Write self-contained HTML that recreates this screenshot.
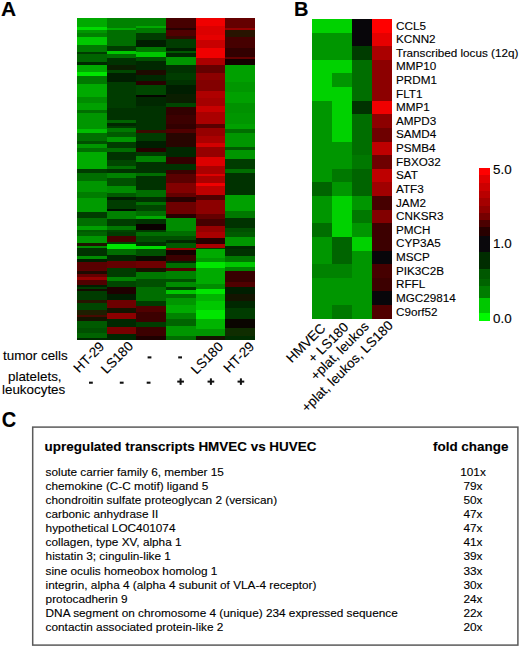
<!DOCTYPE html>
<html><head><meta charset="utf-8"><style>
html,body{margin:0;padding:0;background:#fff;}
body{width:520px;height:647px;position:relative;overflow:hidden;font-family:"Liberation Sans",sans-serif;color:#000;-webkit-text-stroke:0.12px #000;}
.lab{position:absolute;font-weight:bold;font-size:20px;line-height:20px;color:#000;}
.g{position:absolute;left:396px;font-size:11.7px;line-height:13px;white-space:nowrap;}
.t{position:absolute;font-size:13.4px;line-height:14px;white-space:nowrap;}
.rot{position:absolute;font-size:13.2px;line-height:14px;white-space:nowrap;transform-origin:100% 100%;transform:rotate(-45deg);}
.rotb{position:absolute;font-size:11.5px;line-height:13px;white-space:nowrap;transform-origin:100% 100%;transform:rotate(-45deg);}
.box{position:absolute;left:32px;top:426.5px;width:484.5px;height:217px;border:1.5px solid #606060;}
.hd{position:absolute;font-weight:bold;font-size:13.45px;line-height:15px;white-space:nowrap;}
.r{position:absolute;left:45.6px;font-size:11.8px;line-height:13px;white-space:nowrap;}
.v{position:absolute;left:440px;width:66px;text-align:center;font-size:11.8px;line-height:13px;}
svg{position:absolute;left:0;top:0;}
</style></head><body>
<svg width="520" height="647" viewBox="0 0 520 647" shape-rendering="crispEdges">
<rect x="77.00" y="18.00" width="29.97" height="9.50" fill="#00aa00"/><rect x="77.00" y="27.20" width="29.97" height="2.90" fill="#00dc00"/><rect x="77.00" y="29.80" width="29.97" height="3.80" fill="#009600"/><rect x="77.00" y="33.30" width="29.97" height="3.80" fill="#008200"/><rect x="77.00" y="36.80" width="29.97" height="8.90" fill="#00c800"/><rect x="77.00" y="45.40" width="29.97" height="6.40" fill="#007800"/><rect x="77.00" y="51.50" width="29.97" height="2.80" fill="#003c00"/><rect x="77.00" y="54.00" width="29.97" height="8.20" fill="#006400"/><rect x="77.00" y="61.90" width="29.97" height="2.90" fill="#002800"/><rect x="77.00" y="64.50" width="29.97" height="8.00" fill="#00aa00"/><rect x="77.00" y="72.20" width="29.97" height="3.80" fill="#00e600"/><rect x="77.00" y="75.70" width="29.97" height="9.00" fill="#007800"/><rect x="77.00" y="84.40" width="29.97" height="13.20" fill="#00aa00"/><rect x="77.00" y="97.30" width="29.97" height="5.50" fill="#008c00"/><rect x="77.00" y="102.50" width="29.97" height="7.30" fill="#00a000"/><rect x="77.00" y="109.50" width="29.97" height="3.80" fill="#006e00"/><rect x="77.00" y="113.00" width="29.97" height="13.30" fill="#009600"/><rect x="77.00" y="126.00" width="29.97" height="3.50" fill="#009600"/><rect x="77.00" y="129.20" width="29.97" height="3.80" fill="#00be00"/><rect x="77.00" y="132.70" width="29.97" height="8.90" fill="#006e00"/><rect x="77.00" y="141.30" width="29.97" height="2.90" fill="#005000"/><rect x="77.00" y="143.90" width="29.97" height="4.60" fill="#009600"/><rect x="77.00" y="148.20" width="29.97" height="3.80" fill="#006e00"/><rect x="77.00" y="151.70" width="29.97" height="17.60" fill="#00ac00"/><rect x="77.00" y="169.00" width="29.97" height="4.60" fill="#003c00"/><rect x="77.00" y="173.30" width="29.97" height="8.10" fill="#006e00"/><rect x="77.00" y="181.10" width="29.97" height="10.70" fill="#009600"/><rect x="77.00" y="191.50" width="29.97" height="7.20" fill="#007d00"/><rect x="77.00" y="198.40" width="29.97" height="14.20" fill="#009b00"/><rect x="77.00" y="212.30" width="29.97" height="6.30" fill="#003c00"/><rect x="77.00" y="218.30" width="29.97" height="8.10" fill="#006e00"/><rect x="77.00" y="226.10" width="29.97" height="4.60" fill="#00a000"/><rect x="77.00" y="230.40" width="29.97" height="1.90" fill="#005a00"/><rect x="77.00" y="232.00" width="29.97" height="3.80" fill="#006400"/><rect x="77.00" y="235.50" width="29.97" height="8.00" fill="#009600"/><rect x="77.00" y="243.20" width="29.97" height="2.90" fill="#1e1400"/><rect x="77.00" y="245.80" width="29.97" height="2.90" fill="#008c00"/><rect x="77.00" y="248.40" width="29.97" height="8.10" fill="#003200"/><rect x="77.00" y="256.20" width="29.97" height="2.90" fill="#008c00"/><rect x="77.00" y="258.80" width="29.97" height="3.80" fill="#001e00"/><rect x="77.00" y="262.30" width="29.97" height="9.00" fill="#5a0000"/><rect x="77.00" y="271.00" width="29.97" height="2.80" fill="#1e0a00"/><rect x="77.00" y="273.50" width="29.97" height="3.80" fill="#640000"/><rect x="77.00" y="277.00" width="29.97" height="2.90" fill="#960000"/><rect x="77.00" y="279.60" width="29.97" height="5.50" fill="#500000"/><rect x="77.00" y="284.80" width="29.97" height="2.90" fill="#001e00"/><rect x="77.00" y="287.40" width="29.97" height="1.50" fill="#003c00"/><rect x="77.00" y="288.60" width="29.97" height="2.90" fill="#140a00"/><rect x="77.00" y="291.20" width="29.97" height="8.90" fill="#003c00"/><rect x="77.00" y="299.80" width="29.97" height="3.80" fill="#281400"/><rect x="77.00" y="303.30" width="29.97" height="7.20" fill="#004600"/><rect x="77.00" y="310.20" width="29.97" height="4.70" fill="#1e1e00"/><rect x="77.00" y="314.60" width="29.97" height="2.90" fill="#460a00"/><rect x="77.00" y="317.20" width="29.97" height="3.70" fill="#141400"/><rect x="77.00" y="320.60" width="29.97" height="7.20" fill="#005a00"/><rect x="77.00" y="327.50" width="29.97" height="5.50" fill="#005000"/><rect x="77.00" y="332.70" width="29.97" height="5.60" fill="#006400"/><rect x="77.00" y="338.00" width="29.97" height="1.60" fill="#002800"/><rect x="106.67" y="18.00" width="29.97" height="10.30" fill="#008200"/><rect x="106.67" y="28.00" width="29.97" height="2.10" fill="#00aa00"/><rect x="106.67" y="29.80" width="29.97" height="16.80" fill="#006e00"/><rect x="106.67" y="46.30" width="29.97" height="4.60" fill="#003c00"/><rect x="106.67" y="50.60" width="29.97" height="3.70" fill="#00c800"/><rect x="106.67" y="54.00" width="29.97" height="3.80" fill="#006e00"/><rect x="106.67" y="57.50" width="29.97" height="7.30" fill="#003200"/><rect x="106.67" y="64.50" width="29.97" height="5.40" fill="#0a1e00"/><rect x="106.67" y="69.60" width="29.97" height="3.80" fill="#004600"/><rect x="106.67" y="73.10" width="29.97" height="9.00" fill="#001e00"/><rect x="106.67" y="81.80" width="29.97" height="26.20" fill="#003c00"/><rect x="106.67" y="107.70" width="29.97" height="12.40" fill="#003200"/><rect x="106.67" y="119.80" width="29.97" height="3.80" fill="#006400"/><rect x="106.67" y="123.30" width="29.97" height="3.00" fill="#002800"/><rect x="106.67" y="126.00" width="29.97" height="1.80" fill="#003c00"/><rect x="106.67" y="127.50" width="29.97" height="4.60" fill="#007800"/><rect x="106.67" y="131.80" width="29.97" height="5.50" fill="#005a00"/><rect x="106.67" y="137.00" width="29.97" height="5.50" fill="#009600"/><rect x="106.67" y="142.20" width="29.97" height="6.30" fill="#003c00"/><rect x="106.67" y="148.20" width="29.97" height="3.80" fill="#006e00"/><rect x="106.67" y="151.70" width="29.97" height="8.90" fill="#003200"/><rect x="106.67" y="160.30" width="29.97" height="5.50" fill="#004600"/><rect x="106.67" y="165.50" width="29.97" height="3.80" fill="#006e00"/><rect x="106.67" y="169.00" width="29.97" height="4.60" fill="#003200"/><rect x="106.67" y="173.30" width="29.97" height="4.70" fill="#008200"/><rect x="106.67" y="177.70" width="29.97" height="8.90" fill="#005000"/><rect x="106.67" y="186.30" width="29.97" height="7.20" fill="#008c00"/><rect x="106.67" y="193.20" width="29.97" height="3.80" fill="#005a00"/><rect x="106.67" y="196.70" width="29.97" height="3.80" fill="#001e00"/><rect x="106.67" y="200.20" width="29.97" height="8.90" fill="#003c00"/><rect x="106.67" y="208.80" width="29.97" height="2.90" fill="#000f00"/><rect x="106.67" y="211.40" width="29.97" height="8.10" fill="#008200"/><rect x="106.67" y="219.20" width="29.97" height="7.20" fill="#003c00"/><rect x="106.67" y="226.10" width="29.97" height="4.60" fill="#007800"/><rect x="106.67" y="230.40" width="29.97" height="1.90" fill="#004600"/><rect x="106.67" y="232.00" width="29.97" height="3.80" fill="#003c00"/><rect x="106.67" y="235.50" width="29.97" height="6.30" fill="#460000"/><rect x="106.67" y="241.50" width="29.97" height="2.90" fill="#003c00"/><rect x="106.67" y="244.10" width="29.97" height="5.50" fill="#00e600"/><rect x="106.67" y="249.30" width="29.97" height="6.40" fill="#006e00"/><rect x="106.67" y="255.40" width="29.97" height="5.50" fill="#002800"/><rect x="106.67" y="260.60" width="29.97" height="8.00" fill="#640000"/><rect x="106.67" y="268.30" width="29.97" height="9.00" fill="#003c00"/><rect x="106.67" y="277.00" width="29.97" height="4.60" fill="#008200"/><rect x="106.67" y="281.30" width="29.97" height="6.40" fill="#004600"/><rect x="106.67" y="287.40" width="29.97" height="7.20" fill="#1e0000"/><rect x="106.67" y="294.30" width="29.97" height="5.50" fill="#001e00"/><rect x="106.67" y="299.50" width="29.97" height="8.90" fill="#6e0000"/><rect x="106.67" y="308.10" width="29.97" height="4.70" fill="#141400"/><rect x="106.67" y="312.50" width="29.97" height="7.20" fill="#8c0000"/><rect x="106.67" y="319.40" width="29.97" height="8.10" fill="#002800"/><rect x="106.67" y="327.20" width="29.97" height="7.20" fill="#780000"/><rect x="106.67" y="334.10" width="29.97" height="5.50" fill="#002800"/><rect x="136.33" y="18.00" width="29.97" height="7.80" fill="#008200"/><rect x="136.33" y="25.50" width="29.97" height="2.90" fill="#00aa00"/><rect x="136.33" y="28.10" width="29.97" height="5.50" fill="#007800"/><rect x="136.33" y="33.30" width="29.97" height="7.20" fill="#003c00"/><rect x="136.33" y="40.20" width="29.97" height="7.30" fill="#001e00"/><rect x="136.33" y="47.20" width="29.97" height="4.60" fill="#007800"/><rect x="136.33" y="51.50" width="29.97" height="5.50" fill="#00c800"/><rect x="136.33" y="56.70" width="29.97" height="4.60" fill="#005000"/><rect x="136.33" y="61.00" width="29.97" height="8.90" fill="#002800"/><rect x="136.33" y="69.60" width="29.97" height="5.50" fill="#1e0a00"/><rect x="136.33" y="74.80" width="29.97" height="6.40" fill="#002800"/><rect x="136.33" y="80.90" width="29.97" height="4.60" fill="#280000"/><rect x="136.33" y="85.20" width="29.97" height="9.80" fill="#004600"/><rect x="136.33" y="94.70" width="29.97" height="2.90" fill="#050500"/><rect x="136.33" y="97.30" width="29.97" height="9.00" fill="#002800"/><rect x="136.33" y="106.00" width="29.97" height="24.30" fill="#003200"/><rect x="136.33" y="130.00" width="29.97" height="3.00" fill="#3c0a00"/><rect x="136.33" y="132.70" width="29.97" height="8.90" fill="#003c00"/><rect x="136.33" y="141.30" width="29.97" height="7.20" fill="#001e00"/><rect x="136.33" y="148.20" width="29.97" height="3.80" fill="#280000"/><rect x="136.33" y="151.70" width="29.97" height="4.60" fill="#003c00"/><rect x="136.33" y="156.00" width="29.97" height="6.30" fill="#008200"/><rect x="136.33" y="162.00" width="29.97" height="10.80" fill="#003200"/><rect x="136.33" y="172.50" width="29.97" height="3.80" fill="#006e00"/><rect x="136.33" y="176.00" width="29.97" height="14.10" fill="#003200"/><rect x="136.33" y="189.80" width="29.97" height="7.20" fill="#006e00"/><rect x="136.33" y="196.70" width="29.97" height="5.50" fill="#003200"/><rect x="136.33" y="201.90" width="29.97" height="3.70" fill="#006e00"/><rect x="136.33" y="205.30" width="29.97" height="5.50" fill="#004600"/><rect x="136.33" y="210.50" width="29.97" height="5.50" fill="#006e00"/><rect x="136.33" y="215.70" width="29.97" height="3.80" fill="#00aa00"/><rect x="136.33" y="219.20" width="29.97" height="4.60" fill="#003200"/><rect x="136.33" y="223.50" width="29.97" height="7.20" fill="#0a0000"/><rect x="136.33" y="230.40" width="29.97" height="1.90" fill="#003c00"/><rect x="136.33" y="232.00" width="29.97" height="3.80" fill="#006e00"/><rect x="136.33" y="235.50" width="29.97" height="7.20" fill="#005000"/><rect x="136.33" y="242.40" width="29.97" height="3.70" fill="#003200"/><rect x="136.33" y="245.80" width="29.97" height="3.80" fill="#00dc00"/><rect x="136.33" y="249.30" width="29.97" height="7.20" fill="#005000"/><rect x="136.33" y="256.20" width="29.97" height="5.50" fill="#0a0a00"/><rect x="136.33" y="261.40" width="29.97" height="6.40" fill="#6e0000"/><rect x="136.33" y="267.50" width="29.97" height="4.60" fill="#141400"/><rect x="136.33" y="271.80" width="29.97" height="7.20" fill="#007800"/><rect x="136.33" y="278.70" width="29.97" height="9.00" fill="#005000"/><rect x="136.33" y="287.40" width="29.97" height="14.10" fill="#006e00"/><rect x="136.33" y="301.20" width="29.97" height="5.50" fill="#003c00"/><rect x="136.33" y="306.40" width="29.97" height="5.50" fill="#500000"/><rect x="136.33" y="311.60" width="29.97" height="10.70" fill="#3c0000"/><rect x="136.33" y="322.00" width="29.97" height="5.50" fill="#003c00"/><rect x="136.33" y="327.20" width="29.97" height="8.90" fill="#3c0000"/><rect x="136.33" y="335.80" width="29.97" height="3.80" fill="#1e0000"/><rect x="166.00" y="18.00" width="29.97" height="10.40" fill="#460000"/><rect x="166.00" y="28.10" width="29.97" height="2.00" fill="#280000"/><rect x="166.00" y="29.80" width="29.97" height="6.40" fill="#500000"/><rect x="166.00" y="35.90" width="29.97" height="2.90" fill="#320a00"/><rect x="166.00" y="38.50" width="29.97" height="9.80" fill="#003c00"/><rect x="166.00" y="48.00" width="29.97" height="2.90" fill="#001e00"/><rect x="166.00" y="50.60" width="29.97" height="2.90" fill="#005a00"/><rect x="166.00" y="53.20" width="29.97" height="3.80" fill="#002800"/><rect x="166.00" y="56.70" width="29.97" height="8.90" fill="#009600"/><rect x="166.00" y="65.30" width="29.97" height="8.10" fill="#003200"/><rect x="166.00" y="73.10" width="29.97" height="7.20" fill="#003c00"/><rect x="166.00" y="80.00" width="29.97" height="5.50" fill="#003200"/><rect x="166.00" y="85.20" width="29.97" height="9.00" fill="#001e00"/><rect x="166.00" y="93.90" width="29.97" height="8.90" fill="#0a1e00"/><rect x="166.00" y="102.50" width="29.97" height="4.70" fill="#004600"/><rect x="166.00" y="106.90" width="29.97" height="8.00" fill="#320000"/><rect x="166.00" y="114.60" width="29.97" height="9.70" fill="#3c0000"/><rect x="166.00" y="124.00" width="29.97" height="5.50" fill="#320000"/><rect x="166.00" y="129.20" width="29.97" height="3.80" fill="#500000"/><rect x="166.00" y="132.70" width="29.97" height="14.10" fill="#280500"/><rect x="166.00" y="146.50" width="29.97" height="10.70" fill="#002800"/><rect x="166.00" y="156.90" width="29.97" height="7.20" fill="#320000"/><rect x="166.00" y="163.80" width="29.97" height="6.40" fill="#003200"/><rect x="166.00" y="169.90" width="29.97" height="4.60" fill="#3c0000"/><rect x="166.00" y="174.20" width="29.97" height="8.90" fill="#5a0000"/><rect x="166.00" y="182.80" width="29.97" height="10.70" fill="#820000"/><rect x="166.00" y="193.20" width="29.97" height="3.80" fill="#640000"/><rect x="166.00" y="196.70" width="29.97" height="5.50" fill="#280000"/><rect x="166.00" y="201.90" width="29.97" height="12.40" fill="#6e0000"/><rect x="166.00" y="214.00" width="29.97" height="4.60" fill="#280000"/><rect x="166.00" y="218.30" width="29.97" height="13.30" fill="#008c00"/><rect x="166.00" y="231.30" width="29.97" height="4.50" fill="#006e00"/><rect x="166.00" y="235.50" width="29.97" height="4.60" fill="#005000"/><rect x="166.00" y="239.80" width="29.97" height="3.70" fill="#002800"/><rect x="166.00" y="243.20" width="29.97" height="4.70" fill="#005a00"/><rect x="166.00" y="247.60" width="29.97" height="2.90" fill="#960000"/><rect x="166.00" y="250.20" width="29.97" height="5.50" fill="#140000"/><rect x="166.00" y="255.40" width="29.97" height="5.50" fill="#3c0000"/><rect x="166.00" y="260.60" width="29.97" height="2.90" fill="#002800"/><rect x="166.00" y="263.20" width="29.97" height="4.60" fill="#006e00"/><rect x="166.00" y="267.50" width="29.97" height="3.80" fill="#500000"/><rect x="166.00" y="271.00" width="29.97" height="8.00" fill="#008200"/><rect x="166.00" y="278.70" width="29.97" height="3.80" fill="#005000"/><rect x="166.00" y="282.20" width="29.97" height="4.60" fill="#008c00"/><rect x="166.00" y="286.50" width="29.97" height="3.80" fill="#003c00"/><rect x="166.00" y="290.00" width="29.97" height="4.60" fill="#00c800"/><rect x="166.00" y="294.30" width="29.97" height="3.80" fill="#006e00"/><rect x="166.00" y="297.80" width="29.97" height="7.20" fill="#009600"/><rect x="166.00" y="304.70" width="29.97" height="8.90" fill="#00aa00"/><rect x="166.00" y="313.30" width="29.97" height="5.50" fill="#008200"/><rect x="166.00" y="318.50" width="29.97" height="7.30" fill="#006400"/><rect x="166.00" y="325.50" width="29.97" height="10.60" fill="#009600"/><rect x="166.00" y="335.80" width="29.97" height="3.80" fill="#006e00"/><rect x="195.67" y="18.00" width="29.97" height="8.70" fill="#f00000"/><rect x="195.67" y="26.40" width="29.97" height="8.90" fill="#dc0000"/><rect x="195.67" y="35.00" width="29.97" height="5.50" fill="#e60000"/><rect x="195.67" y="40.20" width="29.97" height="8.10" fill="#c80000"/><rect x="195.67" y="48.00" width="29.97" height="9.80" fill="#f00000"/><rect x="195.67" y="57.50" width="29.97" height="7.30" fill="#aa0000"/><rect x="195.67" y="64.50" width="29.97" height="8.90" fill="#640000"/><rect x="195.67" y="73.10" width="29.97" height="7.60" fill="#8c0000"/><rect x="195.67" y="80.40" width="29.97" height="10.70" fill="#820000"/><rect x="195.67" y="90.80" width="29.97" height="7.20" fill="#af0000"/><rect x="195.67" y="97.70" width="29.97" height="8.90" fill="#a50000"/><rect x="195.67" y="106.30" width="29.97" height="5.50" fill="#c80000"/><rect x="195.67" y="111.50" width="29.97" height="12.80" fill="#aa0000"/><rect x="195.67" y="124.00" width="29.97" height="3.80" fill="#5a0000"/><rect x="195.67" y="127.50" width="29.97" height="8.90" fill="#960000"/><rect x="195.67" y="136.10" width="29.97" height="7.20" fill="#aa0000"/><rect x="195.67" y="143.00" width="29.97" height="4.70" fill="#d20000"/><rect x="195.67" y="147.40" width="29.97" height="9.80" fill="#960000"/><rect x="195.67" y="156.90" width="29.97" height="8.90" fill="#dc0000"/><rect x="195.67" y="165.50" width="29.97" height="9.00" fill="#aa0000"/><rect x="195.67" y="174.20" width="29.97" height="2.00" fill="#dc0000"/><rect x="195.67" y="175.90" width="29.97" height="7.20" fill="#aa0000"/><rect x="195.67" y="182.80" width="29.97" height="3.80" fill="#f00000"/><rect x="195.67" y="186.30" width="29.97" height="9.00" fill="#be0000"/><rect x="195.67" y="195.00" width="29.97" height="5.50" fill="#500000"/><rect x="195.67" y="200.20" width="29.97" height="14.10" fill="#8c0000"/><rect x="195.67" y="214.00" width="29.97" height="5.50" fill="#640000"/><rect x="195.67" y="219.20" width="29.97" height="7.20" fill="#460000"/><rect x="195.67" y="226.10" width="29.97" height="6.20" fill="#960000"/><rect x="195.67" y="232.00" width="29.97" height="6.30" fill="#aa0000"/><rect x="195.67" y="238.00" width="29.97" height="6.40" fill="#280000"/><rect x="195.67" y="244.10" width="29.97" height="3.80" fill="#aa0000"/><rect x="195.67" y="247.60" width="29.97" height="2.00" fill="#003c00"/><rect x="195.67" y="249.30" width="29.97" height="9.00" fill="#00aa00"/><rect x="195.67" y="258.00" width="29.97" height="4.60" fill="#009600"/><rect x="195.67" y="262.30" width="29.97" height="6.30" fill="#00e600"/><rect x="195.67" y="268.30" width="29.97" height="16.00" fill="#00aa00"/><rect x="195.67" y="284.00" width="29.97" height="5.40" fill="#008c00"/><rect x="195.67" y="289.10" width="29.97" height="5.50" fill="#00e600"/><rect x="195.67" y="294.30" width="29.97" height="7.20" fill="#00b400"/><rect x="195.67" y="301.20" width="29.97" height="9.00" fill="#00c800"/><rect x="195.67" y="309.90" width="29.97" height="8.90" fill="#00e600"/><rect x="195.67" y="318.50" width="29.97" height="10.70" fill="#00b400"/><rect x="195.67" y="328.90" width="29.97" height="7.20" fill="#009600"/><rect x="195.67" y="335.80" width="29.97" height="3.80" fill="#141400"/><rect x="225.33" y="18.00" width="29.97" height="10.40" fill="#640000"/><rect x="225.33" y="28.10" width="29.97" height="2.00" fill="#960000"/><rect x="225.33" y="29.80" width="29.97" height="7.30" fill="#281400"/><rect x="225.33" y="36.80" width="29.97" height="11.50" fill="#460000"/><rect x="225.33" y="48.00" width="29.97" height="9.00" fill="#320000"/><rect x="225.33" y="56.70" width="29.97" height="2.90" fill="#640000"/><rect x="225.33" y="59.30" width="29.97" height="5.50" fill="#140000"/><rect x="225.33" y="64.50" width="29.97" height="17.60" fill="#00a000"/><rect x="225.33" y="81.80" width="29.97" height="10.50" fill="#009600"/><rect x="225.33" y="92.00" width="29.97" height="10.80" fill="#00a000"/><rect x="225.33" y="102.50" width="29.97" height="10.80" fill="#009100"/><rect x="225.33" y="113.00" width="29.97" height="11.30" fill="#009600"/><rect x="225.33" y="124.00" width="29.97" height="5.50" fill="#00a000"/><rect x="225.33" y="129.20" width="29.97" height="3.80" fill="#006e00"/><rect x="225.33" y="132.70" width="29.97" height="14.10" fill="#009600"/><rect x="225.33" y="146.50" width="29.97" height="3.80" fill="#005a00"/><rect x="225.33" y="150.00" width="29.97" height="8.90" fill="#009600"/><rect x="225.33" y="158.60" width="29.97" height="10.70" fill="#003c00"/><rect x="225.33" y="169.00" width="29.97" height="3.80" fill="#006e00"/><rect x="225.33" y="172.50" width="29.97" height="22.80" fill="#003200"/><rect x="225.33" y="195.00" width="29.97" height="15.80" fill="#00a000"/><rect x="225.33" y="210.50" width="29.97" height="7.30" fill="#007800"/><rect x="225.33" y="217.50" width="29.97" height="10.60" fill="#003200"/><rect x="225.33" y="227.80" width="29.97" height="4.50" fill="#005000"/><rect x="225.33" y="232.00" width="29.97" height="5.50" fill="#005a00"/><rect x="225.33" y="237.20" width="29.97" height="8.90" fill="#009600"/><rect x="225.33" y="245.80" width="29.97" height="3.80" fill="#002800"/><rect x="225.33" y="249.30" width="29.97" height="7.20" fill="#003200"/><rect x="225.33" y="256.20" width="29.97" height="6.40" fill="#007800"/><rect x="225.33" y="262.30" width="29.97" height="4.60" fill="#00c800"/><rect x="225.33" y="266.60" width="29.97" height="4.60" fill="#008200"/><rect x="225.33" y="270.90" width="29.97" height="11.60" fill="#370000"/><rect x="225.33" y="282.20" width="29.97" height="5.50" fill="#500000"/><rect x="225.33" y="287.40" width="29.97" height="7.20" fill="#001e00"/><rect x="225.33" y="294.30" width="29.97" height="7.20" fill="#141400"/><rect x="225.33" y="301.20" width="29.97" height="7.20" fill="#002800"/><rect x="225.33" y="308.10" width="29.97" height="11.10" fill="#003c00"/><rect x="225.33" y="318.90" width="29.97" height="8.90" fill="#0a0500"/><rect x="225.33" y="327.50" width="29.97" height="9.00" fill="#0f2d00"/><rect x="225.33" y="336.20" width="29.97" height="3.40" fill="#002d00"/>
<rect x="312.00" y="19.00" width="20.30" height="13.92" fill="#00d200"/><rect x="332.00" y="19.00" width="20.30" height="13.92" fill="#00d200"/><rect x="352.00" y="19.00" width="20.30" height="13.92" fill="#08060a"/><rect x="372.00" y="19.00" width="20.30" height="13.92" fill="#ff0000"/><rect x="312.00" y="32.62" width="20.30" height="13.92" fill="#009600"/><rect x="332.00" y="32.62" width="20.30" height="13.92" fill="#009600"/><rect x="352.00" y="32.62" width="20.30" height="13.92" fill="#08060a"/><rect x="372.00" y="32.62" width="20.30" height="13.92" fill="#e60000"/><rect x="312.00" y="46.24" width="20.30" height="13.92" fill="#009600"/><rect x="332.00" y="46.24" width="20.30" height="13.92" fill="#009600"/><rect x="352.00" y="46.24" width="20.30" height="13.92" fill="#003c00"/><rect x="372.00" y="46.24" width="20.30" height="13.92" fill="#aa0000"/><rect x="312.00" y="59.85" width="20.30" height="13.92" fill="#00d200"/><rect x="332.00" y="59.85" width="20.30" height="13.92" fill="#00d200"/><rect x="352.00" y="59.85" width="20.30" height="13.92" fill="#006e00"/><rect x="372.00" y="59.85" width="20.30" height="13.92" fill="#8c0000"/><rect x="312.00" y="73.47" width="20.30" height="13.92" fill="#00d200"/><rect x="332.00" y="73.47" width="20.30" height="13.92" fill="#009600"/><rect x="352.00" y="73.47" width="20.30" height="13.92" fill="#006e00"/><rect x="372.00" y="73.47" width="20.30" height="13.92" fill="#8c0000"/><rect x="312.00" y="87.09" width="20.30" height="13.92" fill="#00d200"/><rect x="332.00" y="87.09" width="20.30" height="13.92" fill="#00d200"/><rect x="352.00" y="87.09" width="20.30" height="13.92" fill="#006e00"/><rect x="372.00" y="87.09" width="20.30" height="13.92" fill="#8c0000"/><rect x="312.00" y="100.71" width="20.30" height="13.92" fill="#009600"/><rect x="332.00" y="100.71" width="20.30" height="13.92" fill="#00d200"/><rect x="352.00" y="100.71" width="20.30" height="13.92" fill="#003200"/><rect x="372.00" y="100.71" width="20.30" height="13.92" fill="#f00000"/><rect x="312.00" y="114.33" width="20.30" height="13.92" fill="#009600"/><rect x="332.00" y="114.33" width="20.30" height="13.92" fill="#00d200"/><rect x="352.00" y="114.33" width="20.30" height="13.92" fill="#006e00"/><rect x="372.00" y="114.33" width="20.30" height="13.92" fill="#8c0000"/><rect x="312.00" y="127.95" width="20.30" height="13.92" fill="#009600"/><rect x="332.00" y="127.95" width="20.30" height="13.92" fill="#00d200"/><rect x="352.00" y="127.95" width="20.30" height="13.92" fill="#006e00"/><rect x="372.00" y="127.95" width="20.30" height="13.92" fill="#6e0000"/><rect x="312.00" y="141.56" width="20.30" height="13.92" fill="#009600"/><rect x="332.00" y="141.56" width="20.30" height="13.92" fill="#009600"/><rect x="352.00" y="141.56" width="20.30" height="13.92" fill="#006e00"/><rect x="372.00" y="141.56" width="20.30" height="13.92" fill="#be0000"/><rect x="312.00" y="155.18" width="20.30" height="13.92" fill="#009600"/><rect x="332.00" y="155.18" width="20.30" height="13.92" fill="#009600"/><rect x="352.00" y="155.18" width="20.30" height="13.92" fill="#007800"/><rect x="372.00" y="155.18" width="20.30" height="13.92" fill="#6e0000"/><rect x="312.00" y="168.80" width="20.30" height="13.92" fill="#009600"/><rect x="332.00" y="168.80" width="20.30" height="13.92" fill="#007800"/><rect x="352.00" y="168.80" width="20.30" height="13.92" fill="#006400"/><rect x="372.00" y="168.80" width="20.30" height="13.92" fill="#be0000"/><rect x="312.00" y="182.42" width="20.30" height="13.92" fill="#006400"/><rect x="332.00" y="182.42" width="20.30" height="13.92" fill="#009600"/><rect x="352.00" y="182.42" width="20.30" height="13.92" fill="#006400"/><rect x="372.00" y="182.42" width="20.30" height="13.92" fill="#a00000"/><rect x="312.00" y="196.04" width="20.30" height="13.92" fill="#009600"/><rect x="332.00" y="196.04" width="20.30" height="13.92" fill="#00d200"/><rect x="352.00" y="196.04" width="20.30" height="13.92" fill="#009600"/><rect x="372.00" y="196.04" width="20.30" height="13.92" fill="#460000"/><rect x="312.00" y="209.65" width="20.30" height="13.92" fill="#009600"/><rect x="332.00" y="209.65" width="20.30" height="13.92" fill="#00d200"/><rect x="352.00" y="209.65" width="20.30" height="13.92" fill="#007800"/><rect x="372.00" y="209.65" width="20.30" height="13.92" fill="#820000"/><rect x="312.00" y="223.27" width="20.30" height="13.92" fill="#006e00"/><rect x="332.00" y="223.27" width="20.30" height="13.92" fill="#00d200"/><rect x="352.00" y="223.27" width="20.30" height="13.92" fill="#009600"/><rect x="372.00" y="223.27" width="20.30" height="13.92" fill="#3c0000"/><rect x="312.00" y="236.89" width="20.30" height="13.92" fill="#009600"/><rect x="332.00" y="236.89" width="20.30" height="13.92" fill="#006400"/><rect x="352.00" y="236.89" width="20.30" height="13.92" fill="#00d200"/><rect x="372.00" y="236.89" width="20.30" height="13.92" fill="#3c0000"/><rect x="312.00" y="250.51" width="20.30" height="13.92" fill="#009600"/><rect x="332.00" y="250.51" width="20.30" height="13.92" fill="#006400"/><rect x="352.00" y="250.51" width="20.30" height="13.92" fill="#009600"/><rect x="372.00" y="250.51" width="20.30" height="13.92" fill="#08060a"/><rect x="312.00" y="264.13" width="20.30" height="13.92" fill="#008200"/><rect x="332.00" y="264.13" width="20.30" height="13.92" fill="#008200"/><rect x="352.00" y="264.13" width="20.30" height="13.92" fill="#009600"/><rect x="372.00" y="264.13" width="20.30" height="13.92" fill="#460000"/><rect x="312.00" y="277.75" width="20.30" height="13.92" fill="#009600"/><rect x="332.00" y="277.75" width="20.30" height="13.92" fill="#009600"/><rect x="352.00" y="277.75" width="20.30" height="13.92" fill="#009600"/><rect x="372.00" y="277.75" width="20.30" height="13.92" fill="#3c0000"/><rect x="312.00" y="291.36" width="20.30" height="13.92" fill="#009600"/><rect x="332.00" y="291.36" width="20.30" height="13.92" fill="#009600"/><rect x="352.00" y="291.36" width="20.30" height="13.92" fill="#009600"/><rect x="372.00" y="291.36" width="20.30" height="13.92" fill="#08060a"/><rect x="312.00" y="304.98" width="20.30" height="13.92" fill="#009600"/><rect x="332.00" y="304.98" width="20.30" height="13.92" fill="#007800"/><rect x="352.00" y="304.98" width="20.30" height="13.92" fill="#009600"/><rect x="372.00" y="304.98" width="20.30" height="13.92" fill="#500000"/>
<rect x="479.0" y="167.80" width="11" height="7.90" fill="#ff0000"/><rect x="479.0" y="175.40" width="11" height="7.90" fill="#e10000"/><rect x="479.0" y="183.00" width="11" height="7.90" fill="#cd0000"/><rect x="479.0" y="190.60" width="11" height="7.90" fill="#b90000"/><rect x="479.0" y="198.20" width="11" height="7.90" fill="#a50000"/><rect x="479.0" y="205.80" width="11" height="7.90" fill="#910000"/><rect x="479.0" y="213.40" width="11" height="6.70" fill="#760000"/><rect x="479.0" y="219.80" width="11" height="7.90" fill="#4b0000"/><rect x="479.0" y="227.40" width="11" height="9.10" fill="#280000"/><rect x="479.0" y="236.20" width="11" height="16.40" fill="#0a080c"/><rect x="479.0" y="252.30" width="11" height="16.60" fill="#002d00"/><rect x="479.0" y="268.60" width="11" height="10.70" fill="#005800"/><rect x="479.0" y="279.00" width="11" height="6.80" fill="#006400"/><rect x="479.0" y="285.50" width="11" height="12.60" fill="#007d00"/><rect x="479.0" y="297.80" width="11" height="15.20" fill="#00c800"/><rect x="479.0" y="312.70" width="11" height="8.60" fill="#00fa00"/>
</svg>
<div class="lab" style="left:0.8px;top:-1.2px;font-size:20.5px;transform:scaleX(1.02);transform-origin:0 0">A</div>
<div class="lab" style="left:294px;top:-1px">B</div>
<div class="lab" style="left:1.8px;top:409px;transform:scaleY(1.09);transform-origin:0 3px">C</div>
<div class="g" style="top:18.50px">CCL5</div><div class="g" style="top:32.12px">KCNN2</div><div class="g" style="top:45.74px">Transcribed locus (12q)</div><div class="g" style="top:59.36px">MMP10</div><div class="g" style="top:72.98px">PRDM1</div><div class="g" style="top:86.60px">FLT1</div><div class="g" style="top:100.22px">MMP1</div><div class="g" style="top:113.84px">AMPD3</div><div class="g" style="top:127.46px">SAMD4</div><div class="g" style="top:141.08px">PSMB4</div><div class="g" style="top:154.70px">FBXO32</div><div class="g" style="top:168.32px">SAT</div><div class="g" style="top:181.94px">ATF3</div><div class="g" style="top:195.56px">JAM2</div><div class="g" style="top:209.18px">CNKSR3</div><div class="g" style="top:222.80px">PMCH</div><div class="g" style="top:236.42px">CYP3A5</div><div class="g" style="top:250.04px">MSCP</div><div class="g" style="top:263.66px">PIK3C2B</div><div class="g" style="top:277.28px">RFFL</div><div class="g" style="top:290.90px">MGC29814</div><div class="g" style="top:304.52px">C9orf52</div>
<div class="t" style="left:493px;top:163px">5.0</div>
<div class="t" style="left:493px;top:237px">1.0</div>
<div class="t" style="left:493px;top:312px">0.0</div>
<div class="t" style="left:3px;top:349px">tumor cells</div>
<div class="t" style="left:8px;top:370px">platelets,</div>
<div class="t" style="left:2px;top:383px">leukocytes</div>
<div class="hd" style="left:44.6px;top:439.3px">upregulated transcripts HMVEC vs HUVEC</div>
<div class="hd" style="left:433px;top:439.3px">fold change</div>
<div class="r" style="top:466.00px">solute carrier family 6, member 15</div><div class="v" style="top:466.00px">101x</div><div class="r" style="top:479.70px">chemokine (C-C motif) ligand 5</div><div class="v" style="top:479.70px">79x</div><div class="r" style="top:493.70px">chondroitin sulfate proteoglycan 2 (versican)</div><div class="v" style="top:493.70px">50x</div><div class="r" style="top:507.80px">carbonic anhydrase II</div><div class="v" style="top:507.80px">47x</div><div class="r" style="top:521.70px">hypothetical LOC401074</div><div class="v" style="top:521.70px">47x</div><div class="r" style="top:536.00px">collagen, type XV, alpha 1</div><div class="v" style="top:536.00px">41x</div><div class="r" style="top:550.30px">histatin 3; cingulin-like 1</div><div class="v" style="top:550.30px">39x</div><div class="r" style="top:564.70px">sine oculis homeobox homolog 1</div><div class="v" style="top:564.70px">33x</div><div class="r" style="top:578.60px">integrin, alpha 4 (alpha 4 subunit of VLA-4 receptor)</div><div class="v" style="top:578.60px">30x</div><div class="r" style="top:592.90px">protocadherin 9</div><div class="v" style="top:592.90px">24x</div><div class="r" style="top:606.90px">DNA segment on chromosome 4 (unique) 234 expressed sequence</div><div class="v" style="top:606.90px">22x</div><div class="r" style="top:621.00px">contactin associated protein-like 2</div><div class="v" style="top:621.00px">20x</div>
<svg width="520" height="647" viewBox="0 0 520 647" style="font-family:'Liberation Sans',sans-serif;">
<rect x="32.7" y="427.1" width="485.2" height="218" fill="none" stroke="#5a5a5a" stroke-width="1.5"/><text x="105.1" y="347.4" font-size="13.5" text-anchor="end" transform="rotate(-45 105.1 347.4)" fill="#000" stroke="#000" stroke-width="0.12">HT-29</text><text x="134" y="347" font-size="13.5" text-anchor="end" transform="rotate(-45 134 347)" fill="#000" stroke="#000" stroke-width="0.12">LS180</text><text x="224" y="347.5" font-size="13.5" text-anchor="end" transform="rotate(-45 224 347.5)" fill="#000" stroke="#000" stroke-width="0.12">LS180</text><text x="255.1" y="347.4" font-size="13.5" text-anchor="end" transform="rotate(-45 255.1 347.4)" fill="#000" stroke="#000" stroke-width="0.12">HT-29</text><rect x="147.60" y="356.35" width="3.8" height="2.1" fill="#111"/><rect x="178.20" y="356.35" width="3.8" height="2.1" fill="#111"/><rect x="89.00" y="381.65" width="3.8" height="2.1" fill="#111"/><rect x="119.80" y="381.65" width="3.8" height="2.1" fill="#111"/><rect x="146.70" y="381.65" width="3.8" height="2.1" fill="#111"/><rect x="177.25" y="380.60" width="6.7" height="2" fill="#111"/><rect x="179.60" y="378.35" width="2" height="6.5" fill="#111"/><rect x="207.55" y="380.60" width="6.7" height="2" fill="#111"/><rect x="209.90" y="378.35" width="2" height="6.5" fill="#111"/><rect x="237.55" y="380.60" width="6.7" height="2" fill="#111"/><rect x="239.90" y="378.35" width="2" height="6.5" fill="#111"/><text x="326.3" y="329" font-size="13.5" text-anchor="end" transform="rotate(-45 326.3 329)" fill="#000" stroke="#000" stroke-width="0.12">HMVEC</text><text x="349.4" y="328" font-size="13.5" text-anchor="end" transform="rotate(-45 349.4 328)" fill="#000" stroke="#000" stroke-width="0.12">+ LS180</text><text x="369.8" y="327.3" font-size="13.5" text-anchor="end" transform="rotate(-45 369.8 327.3)" fill="#000" stroke="#000" stroke-width="0.12">+plat, leukos</text><text x="393.8" y="326.3" font-size="13.5" text-anchor="end" transform="rotate(-45 393.8 326.3)" fill="#000" stroke="#000" stroke-width="0.12">+plat, leukos, LS180</text>
</svg>
</body></html>
